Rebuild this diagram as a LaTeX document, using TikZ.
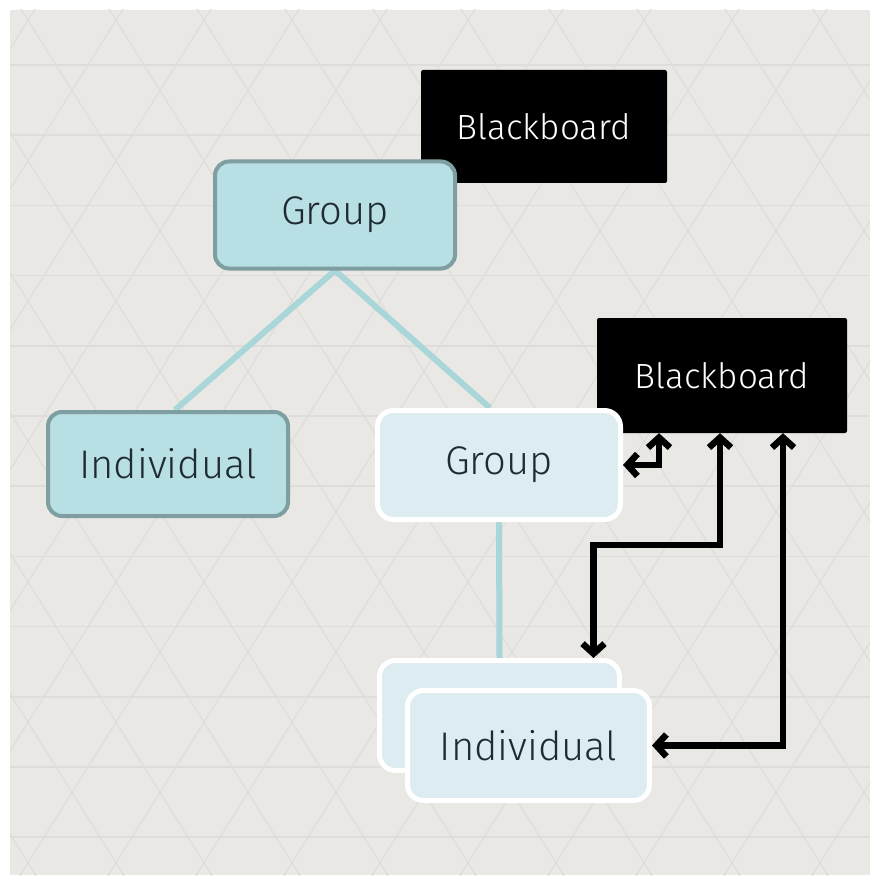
\documentclass[tikz,border=0pt]{standalone}
\usepackage{fontspec}
\setmainfont{Fira Sans}[UprightFont={* Light}]
\usetikzlibrary{arrows.meta,shadows,calc}
\definecolor{bgcol}{HTML}{E9E8E4}
\definecolor{gridcol}{HTML}{DEDDDA}
\definecolor{darkfill}{HTML}{B8DFE3}
\definecolor{darkdraw}{HTML}{7F9EA2}
\definecolor{lightfill}{HTML}{DCECF1}
\definecolor{linkcol}{HTML}{A9D6D8}
\definecolor{txtcol}{HTML}{1E2B33}
\pgfdeclarelayer{gridlayer}
\pgfdeclarelayer{edgelayer}
\pgfsetlayers{gridlayer,edgelayer,main}
\tikzset{
  boardbox/.style={fill=black, text=white, inner sep=0pt, rounded corners=2pt,
    font=\fontsize{35}{40}\selectfont},
  darkbox/.style={fill=darkfill, draw=darkdraw, line width=4pt, rounded corners=14pt,
    text=txtcol, inner sep=0pt, font=\fontsize{40}{46}\selectfont},
  lightbox/.style={fill=lightfill, draw=white, line width=5pt, rounded corners=16pt,
    text=txtcol, inner sep=0pt, font=\fontsize{40}{46}\selectfont,
    drop shadow={opacity=0.25, shadow xshift=1pt, shadow yshift=-2pt}},
  link/.style={draw=linkcol, line width=6pt},
  barb/.tip={Straight Barb[length=10pt,width=22pt]},
  biarr/.style={draw=black, line width=6.5pt, line join=miter, barb-barb},
}
\begin{document}
\begin{tikzpicture}[x=1pt,y=-1pt]
\useasboundingbox (0,0) rectangle (870,885);
\begin{pgfonlayer}{gridlayer}
\fill[white] (0,0) rectangle (870,885);
\fill[bgcol] (10,10) rectangle (870,875);
\begin{scope}
\clip (10,10) rectangle (870,875);
\foreach \k in {-1,...,12} {
  \draw[gridcol, line width=1.5pt] (0,65+70.2*\k) -- (870,65+70.2*\k);
}
\foreach \m in {0,...,17} {
  \draw[gridcol, line width=1.1pt] (936-88*\m-40.7,0) -- (936-88*\m+514,885);
  \draw[gridcol, line width=1.1pt] (-88+88*\m+40.7,0) -- (-88+88*\m-514,885);
}
\end{scope}
\end{pgfonlayer}

\node[boardbox, minimum width=246pt, minimum height=113pt] (bb1) at (544,126.5) {Blackboard};
\node[darkbox, minimum width=240pt, minimum height=107pt] (g1) at (335,215) {Group};
\node[darkbox, minimum width=240pt, minimum height=104pt] (i1) at (168,464) {Individual};
\node[boardbox, minimum width=250pt, minimum height=115pt] (bb2) at (722,375.5) {Blackboard};
\node[lightbox, minimum width=243pt, minimum height=109pt] (g2) at (499,465) {Group};
\node[lightbox, minimum width=240pt, minimum height=110pt] (i2b) at (499.5,715.5) {};
\node[lightbox, minimum width=242pt, minimum height=110pt] (i2f) at (528.5,745.5) {Individual};

\begin{pgfonlayer}{edgelayer}
\draw[link] (g1.south) -- ([xshift=7pt]i1.north);
\draw[link] (g1.south) -- ([xshift=-9pt]g2.north);
\draw[link] (g2.south) -- (i2b.north);
\end{pgfonlayer}

\draw[biarr] ([xshift=-63pt]bb2.south) |- (g2.east);
\draw[biarr] ([xshift=-2pt]bb2.south) -- ++(0,112) -| ([xshift=94pt]i2b.north);
\draw[biarr] ([xshift=61pt]bb2.south) |- (i2f.east);
\end{tikzpicture}
\end{document}
